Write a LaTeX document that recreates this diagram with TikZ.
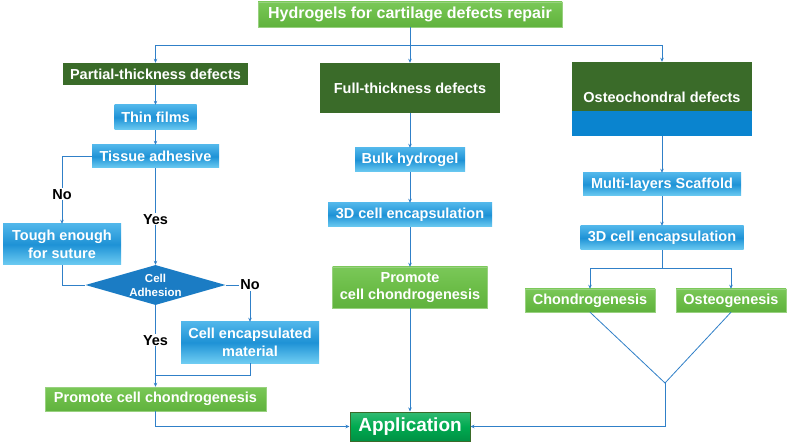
\documentclass[tikz,border=0pt]{standalone}
\usepackage{fontspec}
\setmainfont{Liberation Sans}
\usetikzlibrary{shapes.geometric,arrows.meta}
\definecolor{lgreen}{RGB}{108,189,72}
\definecolor{lgreentop}{RGB}{122,200,88}
\definecolor{lgreenbot}{RGB}{96,178,62}
\definecolor{dgreen}{RGB}{58,107,41}
\definecolor{bluetop}{RGB}{80,182,234}
\definecolor{bluemid}{RGB}{30,146,214}
\definecolor{bluebot}{RGB}{110,204,242}
\definecolor{dblue}{RGB}{10,132,207}
\definecolor{diablue}{RGB}{27,124,196}
\definecolor{appgreen}{RGB}{0,170,80}
\definecolor{lineblue}{RGB}{48,128,200}
\tikzset{
  base/.style={inner sep=0pt, text=white, align=center,
    font=\bfseries\fontsize{14.5}{17.5}\selectfont},
  dgbox/.style={base, fill=dgreen},
  gbox/.style={base, top color=lgreentop, bottom color=lgreenbot, middle color=lgreen,
    draw=lgreen!70!white, line width=0.4pt},
  bbox/.style={base, top color=bluetop, bottom color=bluebot, middle color=bluemid},
  lbl/.style={fill=white, inner sep=1pt, text=black,
    font=\bfseries\fontsize{14.5}{17}\selectfont},
  link/.style={draw=lineblue, line width=0.8pt},
  arr/.style={link, -{Stealth[length=4pt,width=3.5pt]}},
}
\begin{document}
\begin{tikzpicture}[x=1pt, y=-1pt]
\fill[white] (0,0) rectangle (790,446);
\useasboundingbox (0,0) rectangle (790,446);
% top
\node[gbox, minimum width=304, minimum height=25, font=\bfseries\fontsize{16}{19}\selectfont] (title) at (410,14.5) {Hydrogels for cartilage defects repair};
\coordinate (split) at (410,45);
\node[dgbox, minimum width=185, minimum height=22] (partial) at (155.5,74) {Partial-thickness defects};
\node[dgbox, minimum width=180, minimum height=50] (full) at (410,88) {Full-thickness defects};
\node[dgbox, minimum width=180, minimum height=49, text height=31.5pt, text depth=0pt] (osteo) at (662,86.5) {Osteochondral defects};
\node[fill=dblue, inner sep=0pt, minimum width=180, minimum height=25] (osteolow) at (662,123.5) {};
\draw[link] (title) -- (split);
\draw[arr] (split) -- (full);
\draw[arr] (split) -| (partial);
\draw[arr] (split) -| (osteo);
% partial-thickness
\node[bbox, minimum width=82, minimum height=25] (thin) at (155.5,117.5) {Thin films};
\node[bbox, minimum width=127, minimum height=23] (tissue) at (155.5,156.5) {Tissue adhesive};
\node[bbox, minimum width=118, minimum height=41] (tough) at (62,244.5) {Tough enough\\for suture};
\node[diamond, aspect=3.5, fill=diablue, inner sep=0pt, minimum width=140, minimum height=40, text=white, align=center,
  font=\bfseries\fontsize{11.5}{14}\selectfont] (adh) at (155.5,285) {Cell\\Adhesion};
\node[bbox, minimum width=138, minimum height=41] (cellenc) at (250,342.5) {Cell encapsulated\\material};
\node[gbox, minimum width=221, minimum height=24] (promL) at (155.5,399) {Promote cell chondrogenesis};
\coordinate (mergeL) at (155.5,375);
\draw[arr] (partial) -- (thin);
\draw[arr] (thin) -- (tissue);
\draw[arr] (tissue) -| node[lbl, pos=0.78] {No} (tough);
\draw[arr] (tissue) -- node[lbl, pos=0.53] {Yes} (adh);
\draw[link] (tough) |- (adh);
\draw[arr] (adh) -| node[lbl, pos=0.5] {No} (cellenc);
\draw[arr] (adh) -- node[lbl, pos=0.43] {Yes} (promL);
\draw[link] (cellenc) |- (mergeL);
% full-thickness
\node[bbox, minimum width=110, minimum height=24] (bulk) at (410,160) {Bulk hydrogel};
\node[bbox, minimum width=164, minimum height=24] (encM) at (410,215) {3D cell encapsulation};
\node[gbox, minimum width=155, minimum height=41] (promM) at (410,287.5) {Promote\\cell chondrogenesis};
\node[gbox, minimum width=120, minimum height=29, top color=appgreen!80!white, bottom color=appgreen!85!black, middle color=appgreen,
  draw=dgreen, line width=1pt, font=\bfseries\fontsize{19}{22}\selectfont] (app) at (410,426.5) {Application};
\draw[arr] (full) -- (bulk);
\draw[arr] (bulk) -- (encM);
\draw[arr] (encM) -- (promM);
\draw[arr] (promM) -- (app);
\draw[arr] (promL) |- (app);
% osteochondral
\node[bbox, minimum width=158, minimum height=23] (multi) at (662,184.5) {Multi-layers Scaffold};
\node[bbox, minimum width=163, minimum height=24] (encR) at (662,238) {3D cell encapsulation};
\node[gbox, minimum width=130, minimum height=23] (chondro) at (590,300.5) {Chondrogenesis};
\node[gbox, minimum width=110, minimum height=23] (osteog) at (731,300.5) {Osteogenesis};
\coordinate (split2) at (662,268);
\coordinate (vee) at (665,383);
\draw[arr] (osteolow) -- (multi);
\draw[arr] (multi) -- (encR);
\draw[link] (encR) -- (split2);
\draw[arr] (split2) -| (chondro);
\draw[arr] (split2) -| (osteog);
\draw[link] (chondro.south) -- (vee) -- (osteog.south);
\draw[arr] (vee) |- (app);
\end{tikzpicture}
\end{document}
